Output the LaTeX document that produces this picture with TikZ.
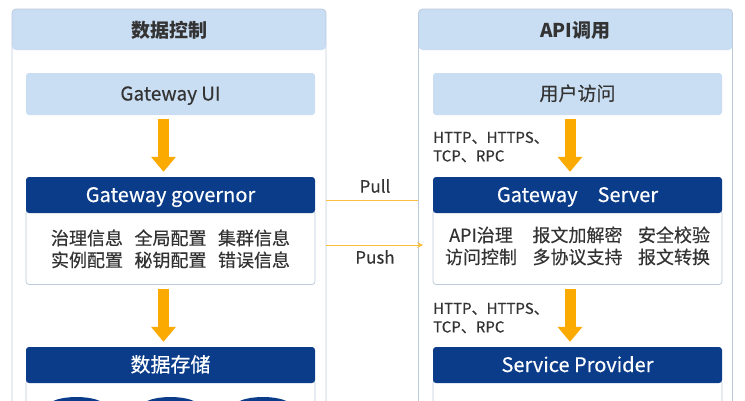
\documentclass[tikz,border=0pt]{standalone}
\usepackage{fontspec}
\setmainfont{Noto Sans CJK SC}[UprightFeatures={FakeBold=0.4}]
\usepackage{tikz}
\usepackage{xcolor}
\usetikzlibrary{positioning,arrows.meta}
\definecolor{navy}{RGB}{10,60,138}
\definecolor{paleblue}{RGB}{201,221,243}
\definecolor{amber}{RGB}{250,170,0}
\definecolor{inkgray}{RGB}{51,51,51}
\definecolor{frameline}{RGB}{188,203,220}

\begin{document}
\begin{tikzpicture}[x=1pt,y=-1pt,
  panel/.style={draw=frameline,line width=.8pt,rounded corners=4pt,minimum width=314pt,minimum height=430pt,inner sep=0pt},
  band/.style={fill=paleblue,rounded corners=4pt,minimum width=314pt,minimum height=41pt,text height=18pt,text depth=2pt,text=inkgray,font=\fontsize{19}{22}\selectfont\bfseries},
  lightbox/.style={fill=paleblue,rounded corners=3pt,minimum width=289pt,minimum height=42pt,text height=16pt,text depth=3pt,text=inkgray,font=\fontsize{19}{22}\selectfont},
  headbox/.style={fill=navy,rounded corners=3pt,minimum width=289pt,minimum height=36pt,text height=17pt,text depth=3pt,text=white,font=\fontsize{20}{24}\selectfont},
  bodybox/.style={draw=frameline,line width=.8pt,fill=white,rounded corners=3pt,minimum width=289pt,text=inkgray,font=\fontsize{18}{22}\selectfont},
  bigarrow/.style={draw=amber,line width=11pt,-{Triangle[length=15pt,width=24pt]},shorten <=4pt,shorten >=5pt},
  protolabel/.style={text=inkgray,font=\fontsize{15}{18.5}\selectfont,align=left,anchor=west,inner sep=0pt},
  flowline/.style={draw=amber!75,line width=1pt},
  flowlabel/.style={text=inkgray,font=\fontsize{17}{20}\selectfont}]
  \useasboundingbox (0,0) rectangle (745,400);
  \clip (0,0) rectangle (745,400);
  % data control panel
  \node[band] (ctrlband) at (169,29.5) {数据控制};
  \node[panel] (ctrlpanel) at (169,224) {};
  % api call panel
  \node[band] (apiband) at (575.5,29.5) {API调用};
  \node[panel] (apipanel) at (575.5,224) {};
  % left column
  \node[lightbox] (uibox) at (170.5,94) {Gateway UI};
  \node[bodybox,minimum height=74pt,text height=15pt,text depth=20.4pt] (govbody) at (170.5,247.5) {\begin{tabular}[t]{@{}c@{\hspace{11.5pt}}c@{\hspace{11.5pt}}c@{}}
    治理信息 & 全局配置 & 集群信息\\
    实例配置 & 秘钥配置 & 错误信息
  \end{tabular}};
  \node[headbox] (govhead) at (170.5,195) {Gateway governor};
  \node[bodybox,minimum height=80pt] (storebody) at (170.5,420) {};
  \node[headbox] (storehead) at (170.5,365) {数据存储};
  % storage cylinders
  \foreach \cx in {76.5,170.5,263}
    \fill[navy] (\cx,406) ellipse [x radius=28, y radius=9];
  % right column
  \node[lightbox] (userbox) at (577.5,94) {用户访问};
  \node[bodybox,minimum height=74pt,text height=15pt,text depth=26.4pt] (srvbody) at (577.5,247.5) {\begin{tabular}[t]{@{}c@{\hspace{15.5pt}}c@{\hspace{15.5pt}}c@{}}
    API治理 & 报文加解密 & 安全校验\\
    访问控制 & 多协议支持 & 报文转换
  \end{tabular}};
  \node[headbox] (srvhead) at (577.5,195) {Gateway\hspace{20pt}Server};
  \node[bodybox,minimum height=80pt] (provbody) at (577.5,420) {};
  \node[headbox] (provhead) at (577.5,365) {Service Provider};
  % protocol labels
  \node[protolabel] (proto1) at (433,147) {HTTP、HTTPS、\\TCP、RPC};
  \node[protolabel] (proto2) at (433,318) {HTTP、HTTPS、\\TCP、RPC};
  % arrows
  \draw[bigarrow] ([xshift=-7pt]uibox.south) -- ([xshift=-7pt]govhead.north);
  \draw[bigarrow] ([xshift=-7pt]govbody.south) -- ([xshift=-7pt]storehead.north);
  \draw[bigarrow] ([xshift=-7.5pt]userbox.south) -- ([xshift=-7.5pt]srvhead.north);
  \draw[bigarrow] ([xshift=-7.5pt]srvbody.south) -- ([xshift=-7.5pt]provhead.north);
  % pull and push
  \coordinate (pullrow) at (372,200);
  \coordinate (pushrow) at (372,245);
  \draw[flowline] (ctrlpanel.east |- pullrow) -- (apipanel.west |- pullrow);
  \draw[flowline,-{Stealth[length=6pt,width=6pt]},shorten >=-5pt] (ctrlpanel.east |- pushrow) -- (apipanel.west |- pushrow);
  \node[flowlabel] (pulltag) at (375,186) {Pull};
  \node[flowlabel] (pushtag) at (375,257) {Push};
\end{tikzpicture}
\end{document}
